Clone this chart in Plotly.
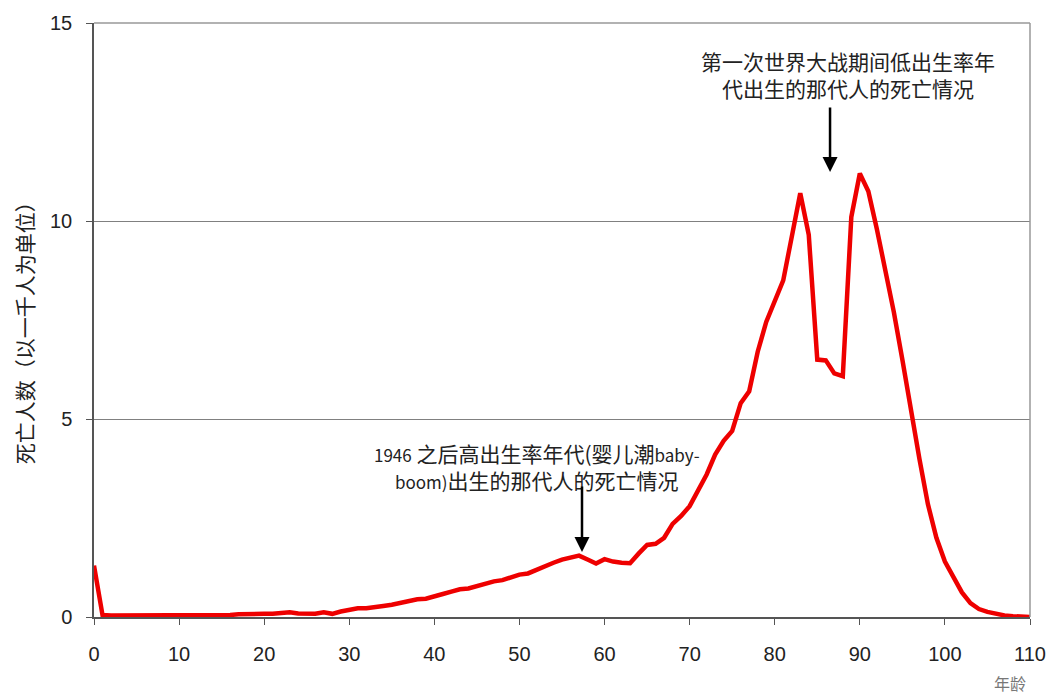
import plotly.graph_objects as go

ages = list(range(0, 111))
deaths = [
    1.30, 0.05, 0.04, 0.04, 0.04, 0.04, 0.04, 0.04, 0.04, 0.04,   # 0-9
    0.04, 0.04, 0.04, 0.04, 0.04, 0.04, 0.05, 0.07, 0.08, 0.08,   # 10-19
    0.08, 0.08, 0.09, 0.12, 0.09, 0.08, 0.08, 0.12, 0.08, 0.14,   # 20-29
    0.19, 0.22, 0.22, 0.24, 0.28, 0.31, 0.35, 0.41, 0.45, 0.46,   # 30-39
    0.53, 0.58, 0.64, 0.70, 0.72, 0.78, 0.85, 0.90, 0.93, 1.00,   # 40-49
    1.07, 1.10, 1.20, 1.30, 1.37, 1.45, 1.50, 1.55, 1.45, 1.35,   # 50-59
    1.46, 1.40, 1.37, 1.36, 1.60, 1.82, 1.85, 2.00, 2.35, 2.55,   # 60-69
    2.80, 3.20, 3.60, 4.10, 4.45, 4.70, 5.40, 5.70, 6.70, 7.45,   # 70-79
    8.00, 8.50, 9.60, 10.70, 9.65, 6.50, 6.48, 6.15, 6.08, 10.10, # 80-89
    11.20, 10.75, 9.80, 8.80, 7.70, 6.50, 5.20, 4.00, 2.85, 2.00, # 90-99
    1.40, 1.00, 0.62, 0.35, 0.20, 0.13, 0.08, 0.04, 0.02, 0.01,   # 100-109
    0.00,                                                         # 110
]

x_ticks = [0, 10, 20, 30, 40, 50, 60, 70, 80, 90, 100, 110]
y_ticks = [0, 5, 10, 15]

ann1_text = "第一次世界大战期间低出生率年<br>代出生的那代人的死亡情况"
ann2_text = ("<span style='font-size:17px'>1946</span> 之后高出生率年代(婴儿潮"
             "<span style='font-size:17px'>baby-</span><br>"
             "<span style='font-size:17px'>boom)</span>出生的那代人的死亡情况")
y_title = "死亡人数（以一千人为单位）"
x_title = "年龄"

fig = go.Figure()
fig.add_trace(go.Scatter(
    x=ages, y=deaths, mode="lines",
    line=dict(color="#ee0000", width=4.5),
    hoverinfo="skip", showlegend=False,
))

font_num = "Liberation Sans, Arial, sans-serif"
font_cjk = "Noto Sans CJK SC, sans-serif"

fig.update_layout(
    width=1049, height=688,
    margin=dict(l=86, r=27, t=15, b=79),
    paper_bgcolor="white", plot_bgcolor="white",
    xaxis=dict(
        range=[0, 110], tickvals=x_ticks, showgrid=False, zeroline=False,
        showline=True, linecolor="#555555", linewidth=1.5, mirror=False,
        ticks="outside", ticklen=6, tickcolor="#555555", automargin=False,
        ticklabelstandoff=12,
        tickfont=dict(family=font_num, size=20, color="#222222"),
    ),
    yaxis=dict(
        range=[0, 15], tickvals=y_ticks, showgrid=True, gridcolor="#808080",
        gridwidth=1, zeroline=False, automargin=False,
        showline=True, linecolor="#555555", linewidth=1.5, mirror=False,
        ticks="outside", ticklen=6, tickcolor="#555555",
        ticklabelstandoff=10,
        tickfont=dict(family=font_num, size=20, color="#222222"),
    ),
    shapes=[
        dict(type="line", xref="paper", yref="paper", x0=0, x1=1, y0=1, y1=1,
             line=dict(color="#999999", width=1.5)),
        dict(type="line", xref="paper", yref="paper", x0=1, x1=1, y0=0, y1=1,
             line=dict(color="#999999", width=1.5)),
    ],
)

fig.add_annotation(
    xref="paper", yref="paper", x=-0.0745, y=0.4865,
    xanchor="center", yanchor="middle",
    text=y_title, textangle=-90, showarrow=False,
    font=dict(family=font_cjk, size=21, color="#222222"),
)
fig.add_annotation(
    xref="paper", yref="paper", x=0.9786, y=-0.111,
    xanchor="center", yanchor="middle",
    text=x_title, showarrow=False,
    font=dict(family=font_cjk, size=16, color="#777777"),
)

# Annotation 1 (WWI) text and arrow
fig.add_annotation(
    xref="x", yref="paper", x=88.6, y=0.9125, yanchor="middle",
    text=ann1_text, showarrow=False, align="center",
    font=dict(family=font_cjk, size=21, color="#222222"),
)
fig.add_annotation(
    xref="x", yref="y", x=86.5, y=11.24, ax=0, ay=-66,
    text="", showarrow=True, arrowhead=2, arrowsize=1.2, arrowwidth=2.5,
    arrowcolor="#000000",
)

# Annotation 2 (baby boom) text and arrow
fig.add_annotation(
    xref="x", yref="y", x=52.1, y=3.79, yanchor="middle",
    text=ann2_text, showarrow=False, align="center",
    font=dict(family=font_cjk, size=21, color="#222222"),
)
fig.add_annotation(
    xref="x", yref="y", x=57.35, y=1.64, ax=0, ay=-67,
    text="", showarrow=True, arrowhead=2, arrowsize=1.2, arrowwidth=2.5,
    arrowcolor="#000000",
)

fig.write_html("out.html")
